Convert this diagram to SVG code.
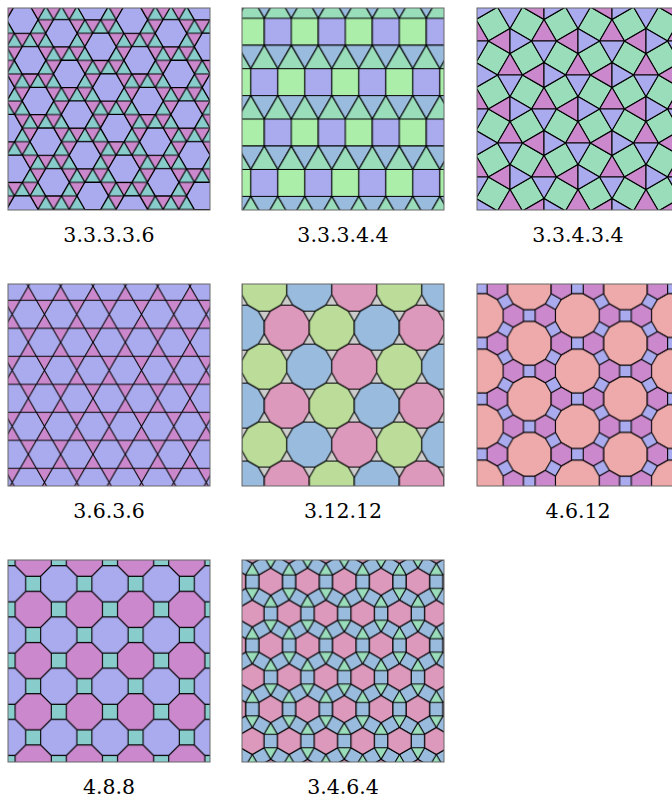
<svg xmlns="http://www.w3.org/2000/svg" width="672" height="797" viewBox="0 0 672 797">
<style>
.ln{fill:none;stroke:#000;stroke-width:1.1;stroke-linejoin:round}
.st{stroke:#000;stroke-width:1.1;stroke-linejoin:round}
.frame{fill:none;stroke:#666;stroke-width:1}
.lbl{font-family:"DejaVu Serif","Liberation Serif",serif;font-size:20.5px;fill:#000;text-anchor:middle}
</style>
<defs>
<clipPath id="c1"><rect x="8" y="8" width="202" height="202"/></clipPath>
<polygon id="h1" class="st" fill="#aaaaee" points="15.65,0 7.825,13.553 -7.825,13.553 -15.65,0 -7.825,-13.553 7.825,-13.553"/>
<g id="hr" class="st"><polygon fill="#cc88cc" points="-12.445,0 12.445,0 0,-21.555"/><polygon fill="#aaaaee" points="-12.445,0 12.445,0 0,21.555"/></g>
<g id="vr" class="st"><polygon fill="#cc88cc" points="0,-12.445 0,12.445 -21.555,0"/><polygon fill="#aaaaee" points="0,-12.445 0,12.445 21.555,0"/></g>
<rect id="sq3" class="st" fill="#99ddbb" x="-12.445" y="-12.445" width="24.89" height="24.89"/>
<path id="bt" d="M-8.085 -14.004H8.085L-8.085 14.004H8.085Z"/>
<polygon id="d5" class="st" points="22.5,6.029 16.471,16.471 6.029,22.5 -6.029,22.5 -16.471,16.471 -22.5,6.029 -22.5,-6.029 -16.471,-16.471 -6.029,-22.5 6.029,-22.5 16.471,-16.471 22.5,-6.029"/>
<polygon id="d6" class="st" fill="#eeaaaa" points="21.886,5.864 16.022,16.022 5.864,21.886 -5.864,21.886 -16.022,16.022 -21.886,5.864 -21.886,-5.864 -16.022,-16.022 -5.864,-21.886 5.864,-21.886 16.022,-16.022 21.886,-5.864"/>
<polygon id="h6" class="st" fill="#cc88cc" points="0,-11.729 10.158,-5.864 10.158,5.864 0,11.729 -10.158,5.864 -10.158,-5.864"/>
<polygon id="o7" class="st" points="18.1,7.5 7.5,18.1 -7.5,18.1 -18.1,7.5 -18.1,-7.5 -7.5,-18.1 7.5,-18.1 18.1,-7.5"/>
<polygon id="h8" class="st" fill="#dd99bb" points="0,-13.47 11.665,-6.735 11.665,6.735 0,13.47 -11.665,6.735 -11.665,-6.735"/>
<rect id="s8" class="st" fill="#99bbdd" x="-6.735" y="-6.735" width="13.47" height="13.47"/>

<pattern id="p1" patternUnits="userSpaceOnUse" x="22.3" y="19.7" width="15.65" height="27.106">
<rect width="15.65" height="27.106" fill="#88cccc"/>
<g fill="#cc88cc">
<polygon points="0,0 15.65,0 7.825,13.553"/>
<polygon points="-7.825,13.553 7.825,13.553 0,27.106"/>
<polygon points="7.825,13.553 23.475,13.553 15.65,27.106"/>
</g>
<path class="ln" d="M-1 0H17M-1 13.553H17M-1 27.106H17M-15.65 0L0 27.106M0 0L15.65 27.106M15.65 0L31.3 27.106M0 0L-15.65 27.106M15.65 0L0 27.106M31.3 0L15.65 27.106"/>
</pattern>

<pattern id="p2" patternUnits="userSpaceOnUse" x="237.3" y="18.3" width="54" height="100.766">
<g class="st">
<rect x="0" y="0" width="27" height="27" fill="#aaeeaa"/>
<rect x="27" y="0" width="27" height="27" fill="#aaaaee"/>
<g fill="#99bbdd">
<polygon points="0,27 27,27 13.5,50.383"/>
<polygon points="27,27 54,27 40.5,50.383"/>
<polygon points="-13.5,77.383 13.5,77.383 0,100.766"/>
<polygon points="13.5,77.383 40.5,77.383 27,100.766"/>
<polygon points="40.5,77.383 67.5,77.383 54,100.766"/>
</g>
<g fill="#99ddbb">
<polygon points="-13.5,50.383 0,27 13.5,50.383"/>
<polygon points="13.5,50.383 27,27 40.5,50.383"/>
<polygon points="40.5,50.383 54,27 67.5,50.383"/>
<polygon points="0,100.766 13.5,77.383 27,100.766"/>
<polygon points="27,100.766 40.5,77.383 54,100.766"/>
</g>
<rect x="-13.5" y="50.383" width="27" height="27" fill="#aaeeaa"/>
<rect x="13.5" y="50.383" width="27" height="27" fill="#aaaaee"/>
<rect x="40.5" y="50.383" width="27" height="27" fill="#aaeeaa"/>
</g>
</pattern>

<pattern id="p3" patternUnits="userSpaceOnUse" x="544" y="41" width="68" height="68">
<use href="#sq3" transform="translate(17 17) rotate(30)"/>
<use href="#sq3" transform="translate(51 17) rotate(-30)"/>
<use href="#sq3" transform="translate(17 51) rotate(-30)"/>
<use href="#sq3" transform="translate(51 51) rotate(30)"/>
<use href="#hr" x="0" y="0"/>
<use href="#hr" x="68" y="0"/>
<use href="#hr" x="0" y="68"/>
<use href="#hr" x="68" y="68"/>
<use href="#hr" x="34" y="34"/>
<use href="#vr" x="34" y="0"/>
<use href="#vr" x="0" y="34"/>
<use href="#vr" x="68" y="34"/>
<use href="#vr" x="34" y="68"/>
</pattern>

<pattern id="p4" patternUnits="userSpaceOnUse" x="28.3" y="286.3" width="32.34" height="56.015">
<rect width="32.34" height="56.015" fill="#aaaaee"/>
<g fill="#cc88cc">
<use href="#bt" x="0" y="0"/>
<use href="#bt" x="32.34" y="0"/>
<use href="#bt" x="0" y="56.015"/>
<use href="#bt" x="32.34" y="56.015"/>
<use href="#bt" x="16.17" y="28.008"/>
</g>
<path class="ln" d="M-1 14.004H34M-1 42.011H34M-32.34 0L0 56.015M0 0L32.34 56.015M32.34 0L64.68 56.015M0 0L-32.34 56.015M32.34 0L0 56.015M64.68 0L32.34 56.015"/>
</pattern>

<pattern id="p5" patternUnits="userSpaceOnUse" x="264.3" y="288.7" width="135" height="77.942">
<rect width="135" height="77.942" fill="#cccccc"/>
<use href="#d5" x="0" y="0" fill="#bbdd99"/>
<use href="#d5" x="45" y="0" fill="#99bbdd"/>
<use href="#d5" x="90" y="0" fill="#dd99bb"/>
<use href="#d5" x="135" y="0" fill="#bbdd99"/>
<use href="#d5" x="-22.5" y="38.971" fill="#99bbdd"/>
<use href="#d5" x="22.5" y="38.971" fill="#dd99bb"/>
<use href="#d5" x="67.5" y="38.971" fill="#bbdd99"/>
<use href="#d5" x="112.5" y="38.971" fill="#99bbdd"/>
<use href="#d5" x="157.5" y="38.971" fill="#dd99bb"/>
<use href="#d5" x="0" y="77.942" fill="#bbdd99"/>
<use href="#d5" x="45" y="77.942" fill="#99bbdd"/>
<use href="#d5" x="90" y="77.942" fill="#dd99bb"/>
<use href="#d5" x="135" y="77.942" fill="#bbdd99"/>
</pattern>

<pattern id="p6" patternUnits="userSpaceOnUse" x="529.3" y="343.3" width="96.13" height="55.5">
<rect width="96.13" height="55.5" fill="#aaaaee"/>
<use href="#d6" x="0" y="0"/>
<use href="#d6" x="96.13" y="0"/>
<use href="#d6" x="0" y="55.5"/>
<use href="#d6" x="96.13" y="55.5"/>
<use href="#d6" x="48.065" y="27.75"/>
<use href="#h6" x="16.022" y="27.75"/>
<use href="#h6" x="80.108" y="27.75"/>
<use href="#h6" x="32.043" y="0"/>
<use href="#h6" x="64.087" y="0"/>
<use href="#h6" x="32.043" y="55.5"/>
<use href="#h6" x="64.087" y="55.5"/>
</pattern>

<pattern id="p7" patternUnits="userSpaceOnUse" x="33.2" y="558.2" width="51.2" height="51.2">
<rect width="51.2" height="51.2" fill="#88cccc"/>
<use href="#o7" x="0" y="0" fill="#cc88cc"/>
<use href="#o7" x="51.2" y="0" fill="#cc88cc"/>
<use href="#o7" x="0" y="51.2" fill="#cc88cc"/>
<use href="#o7" x="51.2" y="51.2" fill="#cc88cc"/>
<use href="#o7" x="25.6" y="25.6" fill="#aaaaee"/>
</pattern>

<pattern id="p8" patternUnits="userSpaceOnUse" x="270.7" y="581.7" width="36.8" height="63.74">
<rect width="36.8" height="63.74" fill="#99ddbb"/>
<use href="#s8" transform="translate(18.4 0)"/>
<use href="#s8" transform="translate(18.4 63.74)"/>
<use href="#s8" transform="translate(0 31.87)"/>
<use href="#s8" transform="translate(36.8 31.87)"/>
<use href="#s8" transform="translate(9.2 15.935) rotate(60)"/>
<use href="#s8" transform="translate(27.6 15.935) rotate(120)"/>
<use href="#s8" transform="translate(9.2 47.805) rotate(120)"/>
<use href="#s8" transform="translate(27.6 47.805) rotate(60)"/>
<use href="#h8" x="0" y="0"/>
<use href="#h8" x="36.8" y="0"/>
<use href="#h8" x="0" y="63.74"/>
<use href="#h8" x="36.8" y="63.74"/>
<use href="#h8" x="18.4" y="31.87"/>
</pattern>
</defs>

<g id="tiling-33336">
<g clip-path="url(#c1)">
<rect x="8" y="8" width="202" height="202" fill="url(#p1)"/>
<use href="#h1" x="92.725" y="6.147"/><use href="#h1" x="202.275" y="6.147"/>
<use href="#h1" x="22.3" y="19.7"/><use href="#h1" x="131.85" y="19.7"/>
<use href="#h1" x="61.425" y="33.253"/><use href="#h1" x="170.975" y="33.253"/>
<use href="#h1" x="100.55" y="46.806"/><use href="#h1" x="210.1" y="46.806"/>
<use href="#h1" x="30.125" y="60.359"/><use href="#h1" x="139.675" y="60.359"/>
<use href="#h1" x="69.25" y="73.912"/><use href="#h1" x="178.8" y="73.912"/>
<use href="#h1" x="-1.175" y="87.465"/><use href="#h1" x="108.375" y="87.465"/><use href="#h1" x="217.925" y="87.465"/>
<use href="#h1" x="37.95" y="101.018"/><use href="#h1" x="147.5" y="101.018"/>
<use href="#h1" x="77.075" y="114.571"/><use href="#h1" x="186.625" y="114.571"/>
<use href="#h1" x="6.65" y="128.124"/><use href="#h1" x="116.2" y="128.124"/>
<use href="#h1" x="45.775" y="141.677"/><use href="#h1" x="155.325" y="141.677"/>
<use href="#h1" x="84.9" y="155.23"/><use href="#h1" x="194.45" y="155.23"/>
<use href="#h1" x="14.475" y="168.783"/><use href="#h1" x="124.025" y="168.783"/>
<use href="#h1" x="53.6" y="182.336"/><use href="#h1" x="163.15" y="182.336"/>
<use href="#h1" x="92.725" y="195.889"/><use href="#h1" x="202.275" y="195.889"/>
<use href="#h1" x="22.3" y="209.442"/><use href="#h1" x="131.85" y="209.442"/>
</g>
<rect class="frame" x="8" y="8" width="202" height="202"/>
<text class="lbl" x="109" y="241.5">3.3.3.3.6</text>
</g>

<g id="tiling-33344">
<rect x="242" y="8" width="202" height="202" fill="url(#p2)"/>
<rect class="frame" x="242" y="8" width="202" height="202"/>
<text class="lbl" x="343" y="241.5">3.3.3.4.4</text>
</g>

<g id="tiling-33434">
<rect x="477" y="8" width="202" height="202" fill="url(#p3)"/>
<rect class="frame" x="477" y="8" width="202" height="202"/>
<text class="lbl" x="578" y="241.5">3.3.4.3.4</text>
</g>

<g id="tiling-3636">
<rect x="8" y="284" width="202" height="202" fill="url(#p4)"/>
<rect class="frame" x="8" y="284" width="202" height="202"/>
<text class="lbl" x="109" y="517.5">3.6.3.6</text>
</g>

<g id="tiling-31212">
<rect x="242" y="284" width="202" height="202" fill="url(#p5)"/>
<rect class="frame" x="242" y="284" width="202" height="202"/>
<text class="lbl" x="343" y="517.5">3.12.12</text>
</g>

<g id="tiling-4612">
<rect x="477" y="284" width="202" height="202" fill="url(#p6)"/>
<rect class="frame" x="477" y="284" width="202" height="202"/>
<text class="lbl" x="578" y="517.5">4.6.12</text>
</g>

<g id="tiling-488">
<rect x="8" y="560" width="202" height="202" fill="url(#p7)"/>
<rect class="frame" x="8" y="560" width="202" height="202"/>
<text class="lbl" x="109" y="793.5">4.8.8</text>
</g>

<g id="tiling-3464">
<rect x="242" y="560" width="202" height="202" fill="url(#p8)"/>
<rect class="frame" x="242" y="560" width="202" height="202"/>
<text class="lbl" x="343" y="793.5">3.4.6.4</text>
</g>
</svg>
